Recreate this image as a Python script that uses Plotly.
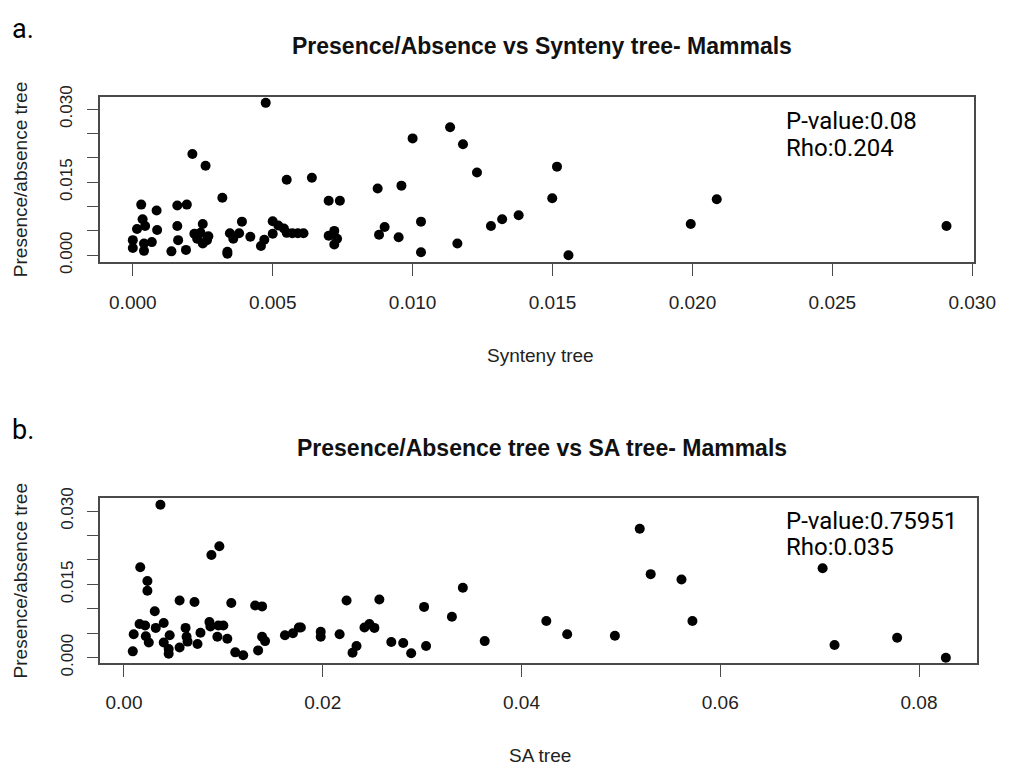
import plotly.graph_objects as go

W, H = 1024, 778

# ---- Panel a data: Synteny tree (x) vs Presence/absence tree (y)
syn_x = [0.0000, 0.0000, 0.00015, 0.0003, 0.00035, 0.00044, 0.0004, 0.0004, 0.00068, 0.00085,
         0.00087, 0.00138, 0.00159, 0.00193, 0.00159, 0.00162, 0.0019, 0.00213, 0.0026, 0.0025,
         0.0022, 0.0023, 0.0025, 0.0027, 0.00242, 0.00265, 0.0032, 0.00338, 0.00338, 0.00347,
         0.00359, 0.0038, 0.0039, 0.0042, 0.00458, 0.0047, 0.00475, 0.0050, 0.0050, 0.0052,
         0.0054, 0.0055, 0.0055, 0.0057, 0.0059, 0.0061, 0.0064, 0.0070, 0.0074, 0.0070,
         0.0072, 0.0073, 0.0072, 0.00875, 0.0088, 0.0090, 0.0096, 0.0095, 0.0100, 0.0103,
         0.0103, 0.01134, 0.0118, 0.0123, 0.0116, 0.0128, 0.0132, 0.01379, 0.01499, 0.01516,
         0.01557, 0.01994, 0.02087, 0.02908]
syn_y = [0.0031, 0.0015, 0.0054, 0.0104, 0.0074, 0.0060, 0.0024, 0.0009, 0.0027, 0.0092,
         0.0052, 0.0008, 0.0102, 0.0104, 0.0060, 0.0031, 0.0011, 0.0208, 0.0184, 0.0064,
         0.0044, 0.0034, 0.0024, 0.0039, 0.0046, 0.0031, 0.0118, 0.0007, 0.0003, 0.0045,
         0.0034, 0.0045, 0.0069, 0.0038, 0.0019, 0.0032, 0.0313, 0.0044, 0.0070, 0.0061,
         0.0055, 0.0155, 0.0046, 0.0045, 0.0045, 0.0045, 0.0159, 0.0112, 0.0112, 0.0040,
         0.0050, 0.0034, 0.0022, 0.0137, 0.0042, 0.0058, 0.0143, 0.0037, 0.0240, 0.0069,
         0.0006, 0.0263, 0.0228, 0.0170, 0.0024, 0.0060, 0.0074, 0.0082, 0.0117, 0.0182,
         0.0000, 0.0064, 0.0115, 0.0060]

# ---- Panel b data: SA tree (x) vs Presence/absence tree (y)
sa_x = [0.00089, 0.00098, 0.00164, 0.00157, 0.00213, 0.0022, 0.0025, 0.00236, 0.00236, 0.0031,
        0.0032, 0.00367, 0.0040, 0.0040, 0.0046, 0.0045, 0.0045, 0.0056, 0.0056, 0.0062,
        0.0063, 0.0064, 0.0071, 0.0074, 0.0077, 0.0088, 0.0096, 0.0086, 0.0087, 0.0094,
        0.0095, 0.0100, 0.0104, 0.0108, 0.0112, 0.0120, 0.0132, 0.0139, 0.0135, 0.0139,
        0.0142, 0.0162, 0.0170, 0.0176, 0.0178, 0.0198, 0.0198, 0.0217, 0.0224, 0.0230,
        0.0234, 0.0242, 0.0247, 0.0252, 0.0257, 0.0269, 0.0281, 0.0289, 0.0302, 0.0304,
        0.0330, 0.0341, 0.0363, 0.0425, 0.0446, 0.0494, 0.0519, 0.0530, 0.0561, 0.0572,
        0.0703, 0.0715, 0.0778, 0.0827]
sa_y = [0.0013, 0.0048, 0.0185, 0.0069, 0.0066, 0.0044, 0.0031, 0.0157, 0.0137, 0.0095,
        0.0061, 0.0313, 0.0071, 0.0031, 0.0046, 0.0018, 0.0008, 0.0117, 0.0021, 0.0061,
        0.0043, 0.0033, 0.0114, 0.0028, 0.0051, 0.0210, 0.0228, 0.0073, 0.0064, 0.0043,
        0.0066, 0.0066, 0.0039, 0.0112, 0.0011, 0.0005, 0.0107, 0.0105, 0.0015, 0.0043,
        0.0034, 0.0046, 0.0050, 0.0062, 0.0062, 0.0053, 0.0043, 0.0048, 0.0117, 0.0010,
        0.0024, 0.0062, 0.0069, 0.0061, 0.0119, 0.0032, 0.0030, 0.0009, 0.0104, 0.0024,
        0.0084, 0.0143, 0.0034, 0.0075, 0.0048, 0.0045, 0.0264, 0.0171, 0.0160, 0.0075,
        0.0183, 0.0026, 0.0041, 0.0000]

y_ticks = [0.000, 0.005, 0.010, 0.015, 0.020, 0.025, 0.030]
y_ticktext = ["0.000", "", "", "0.015", "", "", "0.030"]
xa_ticks = [0.000, 0.005, 0.010, 0.015, 0.020, 0.025, 0.030]
xa_ticktext = ["0.000", "0.005", "0.010", "0.015", "0.020", "0.025", "0.030"]
xb_ticks = [0.00, 0.02, 0.04, 0.06, 0.08]
xb_ticktext = ["0.00", "0.02", "0.04", "0.06", "0.08"]

title_a = "Presence/Absence vs Synteny tree- Mammals"
title_b = "Presence/Absence tree vs SA tree- Mammals"
stats_a = ["P-value:0.08", "Rho:0.204"]
stats_b = ["P-value:0.75951", "Rho:0.035"]


def px(x):
    return x / W


def py(y):
    return 1 - y / H


AX_FONT = "Liberation Sans, Arial, sans-serif"
LINE = "#4a4a4a"

fig = go.Figure()
fig.add_trace(go.Scatter(x=syn_x, y=syn_y, mode="markers", xaxis="x", yaxis="y",
                         marker=dict(color="black", size=10, line=dict(width=0)),
                         showlegend=False))
fig.add_trace(go.Scatter(x=sa_x, y=sa_y, mode="markers", xaxis="x2", yaxis="y2",
                         marker=dict(color="black", size=10, line=dict(width=0)),
                         showlegend=False))

common_x = dict(showline=True, mirror=True, linecolor=LINE, linewidth=1.5,
                ticks="outside", ticklen=12, tickcolor=LINE, tickwidth=1.2,
                showgrid=False, zeroline=False,
                tickfont=dict(family=AX_FONT, size=19, color="#222"),
                ticklabelstandoff=10)
common_y = dict(showline=True, mirror=True, linecolor=LINE, linewidth=1.5,
                ticks="outside", ticklen=11, tickcolor=LINE, tickwidth=1.2,
                showgrid=False, zeroline=False, tickangle=-90,
                tickvals=y_ticks, ticktext=y_ticktext,
                tickfont=dict(family=AX_FONT, size=17, color="#222"),
                ticklabelstandoff=8)

fig.update_layout(
    width=W, height=H, autosize=False,
    margin=dict(l=0, r=0, t=0, b=0),
    paper_bgcolor="white", plot_bgcolor="white",
    xaxis=dict(domain=[px(101.7), px(995)], range=[-0.00119, 0.03005], anchor="y",
               tickvals=xa_ticks, ticktext=xa_ticktext, **common_x),
    yaxis=dict(domain=[py(259), py(88.3)], range=[-0.00139, 0.03259], anchor="x",
               **common_y),
    xaxis2=dict(domain=[px(102.3), px(998)], range=[-0.0024, 0.08579], anchor="y2",
                tickvals=xb_ticks, ticktext=xb_ticktext, **common_x),
    yaxis2=dict(domain=[py(672.7), py(502.7)], range=[-0.00107, 0.03264], anchor="x2",
                **common_y),
)

ann = []
# panel letters
for label, yy in (("a.", 19), ("b.", 432)):
    ann.append(dict(x=px(10), y=py(yy), xref="paper", yref="paper", text=label,
                    showarrow=False, xanchor="left", yanchor="middle",
                    font=dict(family="Roboto, Noto Sans, sans-serif", size=27, color="black")))
# titles
for t, yy in ((title_a, 36), (title_b, 451)):
    ann.append(dict(x=px(554), y=py(yy), xref="paper", yref="paper", text="<b>%s</b>" % t,
                    showarrow=False, xanchor="center", yanchor="middle",
                    font=dict(family=AX_FONT, size=23, color="#111")))
# x axis titles
for t, yy in (("Synteny tree", 355), ("SA tree", 768)):
    ann.append(dict(x=px(552), y=py(yy), xref="paper", yref="paper", text=t,
                    showarrow=False, xanchor="center", yanchor="middle",
                    font=dict(family=AX_FONT, size=19, color="#222")))
# y axis titles
for yy in (174, 588):
    ann.append(dict(x=px(21), y=py(yy), xref="paper", yref="paper",
                    text="Presence/absence tree", textangle=-90,
                    showarrow=False, xanchor="center", yanchor="middle",
                    font=dict(family=AX_FONT, size=19, color="#222")))
# stats text
for lines, y1, y2 in ((stats_a, 114, 141), (stats_b, 526, 553)):
    for txt, yy in zip(lines, (y1, y2)):
        ann.append(dict(x=px(801), y=py(yy), xref="paper", yref="paper", text=txt,
                        showarrow=False, xanchor="left", yanchor="middle",
                        font=dict(family="Roboto, Noto Sans, sans-serif", size=24, color="black")))

fig.update_layout(annotations=ann)
fig.write_html("out.html")
